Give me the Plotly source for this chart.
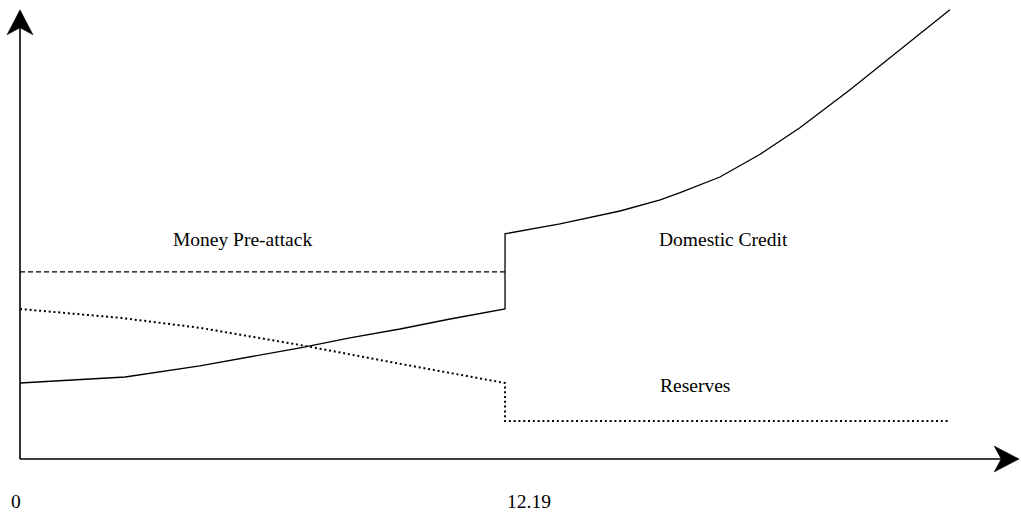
import plotly.graph_objects as go

# ---- data (time units on x, arbitrary level units on y) ----
switch_time = 12.19
t_end = 23.37

credit_t = [0.0, 1.0, 2.64, 4.52, 5.78, 7.04, 8.29, 9.55, 10.81, 12.19,
            12.19, 13.57, 15.08, 16.09, 16.59, 17.59, 18.60, 19.60, 20.86, 22.12, 23.37]
credit_v = [1.90, 1.95, 2.05, 2.33, 2.55, 2.78, 3.03, 3.25, 3.50, 3.75,
            5.63, 5.88, 6.20, 6.48, 6.66, 7.05, 7.62, 8.28, 9.23, 10.23, 11.23]

money_t = [0.0, 12.19]
money_v = [4.68, 4.68]

reserves_t = [0.0, 2.51, 4.52, 7.04, 9.55, 12.19, 12.19, 23.37]
reserves_v = [3.75, 3.53, 3.28, 2.85, 2.38, 1.90, 0.95, 0.95]

x_tick_vals = [0, 12.19]
x_tick_text = ["0", "12.19"]

labels = [
    ("Money Pre-attack", 5.60, 5.50),
    ("Domestic Credit", 17.69, 5.50),
    ("Reserves", 16.96, 1.85),
]

axis_x_tip = 25.11
axis_y_tip = 11.23

X_RANGE = [-0.5027, 25.157]
Y_RANGE = [-1.425, 11.475]
W, H = 1021, 516
ux = (X_RANGE[1] - X_RANGE[0]) / W   # data units per pixel (x)
uy = (Y_RANGE[1] - Y_RANGE[0]) / H   # data units per pixel (y)

FONT = "Liberation Serif, Times New Roman, serif"

fig = go.Figure()
fig.add_trace(go.Scatter(x=money_t, y=money_v, mode="lines",
                         line=dict(color="black", width=1.3, dash="5px,3px"),
                         hoverinfo="skip"))
fig.add_trace(go.Scatter(x=reserves_t, y=reserves_v, mode="lines",
                         line=dict(color="black", width=2, dash="2px,2.8px"),
                         hoverinfo="skip"))
fig.add_trace(go.Scatter(x=credit_t, y=credit_v, mode="lines",
                         line=dict(color="black", width=1.3),
                         hoverinfo="skip"))

# axes lines
shapes = [
    dict(type="line", x0=0, y0=0, x1=axis_x_tip - 8 * ux, y1=0, xref="x", yref="y",
         line=dict(color="black", width=1.6)),
    dict(type="line", x0=0, y0=0, x1=0, y1=axis_y_tip - 8 * uy, xref="x", yref="y",
         line=dict(color="black", width=1.6)),
]
# arrowheads (concave, filled): length 25px, half-width 13px, notch 7px
L, HW, N = 25, 13, 7
xa = (f"M{axis_x_tip},0 "
      f"L{axis_x_tip - L * ux},{HW * uy} "
      f"L{axis_x_tip - (L - N) * ux},0 "
      f"L{axis_x_tip - L * ux},{-HW * uy} Z")
ya = (f"M0,{axis_y_tip} "
      f"L{-HW * ux},{axis_y_tip - L * uy} "
      f"L0,{axis_y_tip - (L - N) * uy} "
      f"L{HW * ux},{axis_y_tip - L * uy} Z")
for p in (xa, ya):
    shapes.append(dict(type="path", path=p, xref="x", yref="y",
                       fillcolor="black", line=dict(color="black", width=0.5)))

annotations = []
for text, x, y in labels:
    annotations.append(dict(x=x, y=y, xref="x", yref="y", text=text,
                            showarrow=False, xanchor="center", yanchor="middle",
                            font=dict(family=FONT, size=19.5, color="black")))

# tick labels below the axis
annotations.append(dict(x=x_tick_vals[0] - 0.09, y=-1.05, xref="x", yref="y",
                        text=x_tick_text[0], showarrow=False,
                        xanchor="center", yanchor="middle",
                        font=dict(family=FONT, size=19.5, color="black")))
annotations.append(dict(x=x_tick_vals[1], y=-1.05, xref="x", yref="y",
                        text=x_tick_text[1], showarrow=False,
                        xanchor="left", yanchor="middle",
                        font=dict(family=FONT, size=19.5, color="black")))

fig.update_layout(
    width=W, height=H,
    margin=dict(l=0, r=0, t=0, b=0),
    paper_bgcolor="white", plot_bgcolor="white",
    showlegend=False,
    shapes=shapes,
    annotations=annotations,
    xaxis=dict(range=X_RANGE, visible=False, fixedrange=True),
    yaxis=dict(range=Y_RANGE, visible=False, fixedrange=True),
)

fig.write_html("out.html", config={"displayModeBar": False},
               post_script="document.body.style.margin='0';"
                           "document.body.style.overflow='hidden';")
